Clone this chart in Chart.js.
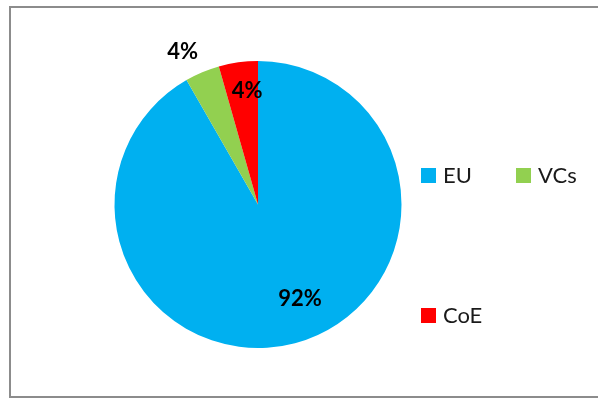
<!DOCTYPE html>
<html>
<head>
<meta charset="utf-8">
<script src="https://cdn.jsdelivr.net/npm/chart.js@4.4.1/dist/chart.umd.min.js"></script>
<style>
    html, body { margin: 0; padding: 0; background: #fff; }
    #wrap { position: relative; width: 598px; height: 403px; overflow: hidden; }
    #frame {
        position: absolute; left: 9px; top: 6px; width: 600px; height: 392px;
        border: 2px solid #8c8c8c; box-sizing: border-box;
    }
    canvas { position: absolute; left: 0; top: 0; }
</style>
</head>
<body>
<div id="wrap">
    <div id="frame"></div>
    <canvas id="chart" width="598" height="403"></canvas>
</div>
<script>
const categories = ['EU', 'VCs', 'CoE'];
const shares = [91.7, 3.9, 4.4];
const shareLabels = ['92%', '4%', '4%'];
const sliceColors = ['#00B0F0', '#92D050', '#FF0000'];
// label placement: fraction of the radius, and a small turn (degrees) off the slice middle
const labelRadius = [0.714, 1.19, 0.80];
const labelTurn = [-9.2, -3.3, 2.5];

const sliceLabels = {
    id: 'sliceLabels',
    afterDatasetsDraw(chart) {
        const ctx = chart.ctx;
        const meta = chart.getDatasetMeta(0);
        ctx.save();
        ctx.font = 'bold 22px Lato';
        ctx.fillStyle = '#000';
        ctx.textAlign = 'center';
        ctx.textBaseline = 'middle';
        meta.data.forEach((arc, i) => {
            const { x, y, startAngle, endAngle, outerRadius } = arc.getProps(['x', 'y', 'startAngle', 'endAngle', 'outerRadius'], true);
            const mid = (startAngle + endAngle) / 2 + labelTurn[i] * Math.PI / 180;
            const r = outerRadius * labelRadius[i];
            ctx.fillText(shareLabels[i], x + Math.cos(mid) * r, y + Math.sin(mid) * r + 1);
        });
        ctx.restore();
    }
};

// legend laid out like the original: two on one row, the third far below
const sideLegend = {
    id: 'sideLegend',
    afterDraw(chart) {
        const ctx = chart.ctx;
        const spots = [[421, 175], [516, 175], [421, 315]];
        ctx.save();
        ctx.font = '22px Lato';
        ctx.textBaseline = 'middle';
        chart.data.labels.forEach((lab, i) => {
            const [lx, ly] = spots[i];
            ctx.fillStyle = chart.data.datasets[0].backgroundColor[i];
            ctx.fillRect(lx, ly - 7, 15, 15);
            ctx.fillStyle = '#1a1a1a';
            ctx.fillText(lab, lx + 22, ly + 1);
        });
        ctx.restore();
    }
};

new Chart(document.getElementById('chart'), {
    type: 'pie',
    data: {
        labels: categories,
        datasets: [{
            data: shares,
            backgroundColor: sliceColors,
            borderWidth: 0
        }]
    },
    options: {
        responsive: false,
        animation: false,
        layout: { padding: { left: 114, right: 196, top: 61, bottom: 55 } },
        plugins: {
            legend: { display: false },
            tooltip: { enabled: false }
        }
    },
    plugins: [sliceLabels, sideLegend]
});
</script>
</body>
</html>
